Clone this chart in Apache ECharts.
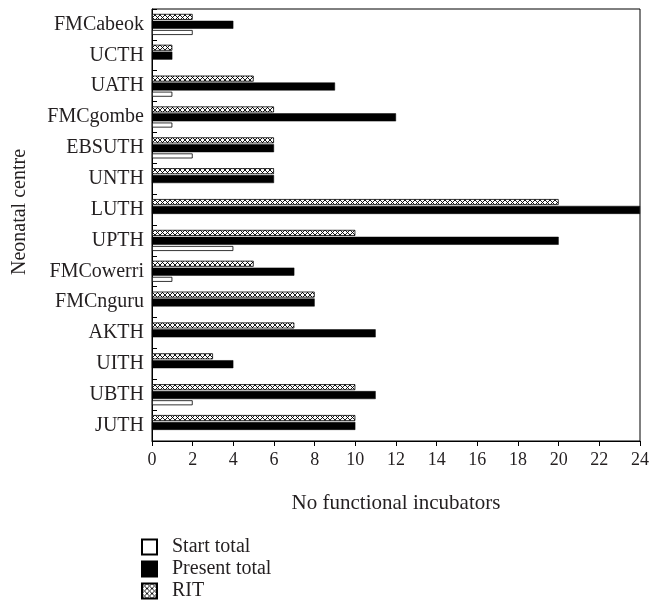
<!DOCTYPE html>
<html>
<head>
<meta charset="utf-8">
<script src="https://cdn.jsdelivr.net/npm/echarts@6/dist/echarts.min.js"></script>
<style>html,body{margin:0;padding:0;background:#fff}#c{width:662px;height:615px}</style>
</head>
<body>
<div id="c"></div>
<script>
var categories = ['FMCabeok','UCTH','UATH','FMCgombe','EBSUTH','UNTH','LUTH','UPTH','FMCowerri','FMCnguru','AKTH','UITH','UBTH','JUTH'];
var ritValues     = [2, 1, 5, 6, 6, 6, 20, 10, 5, 8, 7, 3, 10, 10];
var presentValues = [4, 1, 9, 12, 6, 6, 24, 20, 7, 8, 11, 4, 11, 10];
var startValues   = [2, 0, 1, 1, 2, 0, 0, 4, 1, 0, 0, 0, 2, 0];
var xTicks = [0, 2, 4, 6, 8, 10, 12, 14, 16, 18, 20, 22, 24];

function noZero(arr) { return arr.map(function (v) { return v === 0 ? null : v; }); }

function hatch() {
  var c = document.createElement('canvas');
  c.width = 5; c.height = 5;
  var g = c.getContext('2d');
  g.fillStyle = '#fff'; g.fillRect(0, 0, 5, 5);
  g.strokeStyle = '#000'; g.lineWidth = 0.9;
  g.beginPath();
  g.moveTo(0, 0); g.lineTo(5, 5);
  g.moveTo(5, 0); g.lineTo(0, 5);
  g.stroke();
  return c;
}
var hatchFill = { image: hatch(), repeat: 'repeat' };
var font = 'Liberation Serif';
var txt = '#231f20';

var chart = echarts.init(document.getElementById('c'));
chart.setOption({
  animation: false,
  backgroundColor: '#fff',
  textStyle: { fontFamily: font },
  grid: { left: 152, right: 22, top: 9, bottom: 174, show: true, borderColor: '#000', borderWidth: 1 },
  legend: {
    orient: 'vertical', left: 141, top: 537, width: 200, height: 78,
    itemWidth: 15, itemHeight: 15, itemGap: 2, padding: 0,
    icon: 'rect',
    data: ['Start total', 'Present total', 'RIT'],
    textStyle: { fontFamily: font, fontSize: 20, color: txt, padding: [0, 0, 0, 10] },
    selectedMode: false
  },
  xAxis: {
    type: 'value', min: 0, max: 24, interval: 2,
    name: 'No functional incubators', nameLocation: 'middle', nameGap: 52,
    nameTextStyle: { fontFamily: font, fontSize: 21, color: txt },
    axisLine: { show: true, lineStyle: { color: '#000', width: 1 } },
    axisTick: { show: true, length: 5, lineStyle: { color: '#000' } },
    axisLabel: { fontFamily: font, fontSize: 18, color: txt, margin: 10,
      formatter: function (v) { return xTicks.indexOf(v) >= 0 ? String(v) : ''; } },
    splitLine: { show: false }
  },
  yAxis: {
    type: 'category', data: categories, inverse: true,
    name: 'Neonatal centre', nameLocation: 'middle', nameGap: 122,
    nameTextStyle: { fontFamily: font, fontSize: 20, color: txt, padding: [0, 0, 0, 26] },
    axisLine: { show: true, lineStyle: { color: '#000', width: 1 } },
    axisTick: { show: true, inside: true, length: 5, lineStyle: { color: '#000' } },
    axisLabel: { fontFamily: font, fontSize: 20, color: txt, margin: 8 },
    splitLine: { show: false }
  },
  series: [
    { name: 'RIT', type: 'bar', data: noZero(ritValues), barWidth: 6, barGap: '15%',
      itemStyle: { color: hatchFill, borderColor: '#000', borderWidth: 0.8 } },
    { name: 'Present total', type: 'bar', data: noZero(presentValues), barWidth: 8, barGap: '15%',
      itemStyle: { color: '#000', borderColor: '#000', borderWidth: 0.5 } },
    { name: 'Start total', type: 'bar', data: noZero(startValues), barWidth: 5, barGap: '15%',
      itemStyle: { color: '#fff', borderColor: '#000', borderWidth: 0.8 } }
  ]
});
</script>
</body>
</html>
